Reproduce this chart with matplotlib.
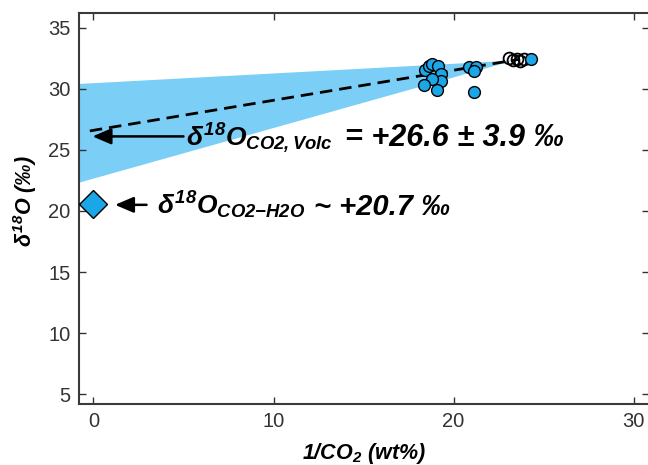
import matplotlib
matplotlib.use("Agg")
import matplotlib.pyplot as plt
import numpy as np

plt.rcParams['font.family'] = ['Liberation Sans', 'DejaVu Sans']
plt.rcParams['mathtext.fontset'] = 'custom'
plt.rcParams['mathtext.rm'] = 'Liberation Sans:bold:italic'
plt.rcParams['mathtext.it'] = 'Liberation Sans:bold:italic'
plt.rcParams['mathtext.bf'] = 'Liberation Sans:bold:italic'
plt.rcParams['mathtext.sf'] = 'Liberation Sans:bold:italic'

# ---- data ----
filled_x = [18.41, 18.64, 18.82, 19.15, 19.28, 19.28, 18.79, 18.36, 19.06,
            20.85, 21.22, 21.13, 21.13, 24.28]
filled_y = [31.56, 31.90, 32.00, 31.83, 31.24, 30.63, 30.83, 30.28, 29.93,
            31.78, 31.78, 31.45, 29.73, 32.40]
open_x = [23.10, 23.30, 23.50, 23.70, 23.90]
open_y = [32.50, 32.35, 32.42, 32.30, 32.40]

volc_value = 26.6
volc_err = 3.9
h2o_value = 20.7

# band (regression confidence envelope) and fit line
band_x = [-1.0, 23.3]
band_upper = [30.42, 32.35]
band_lower = [22.28, 32.35]
fit_x = [-0.2, 23.6]
fit_y = [26.55, 32.40]

xticks = [0, 10, 20, 30]
yticks = [5, 10, 15, 20, 25, 30, 35]

point_color = '#1ba6e8'
band_color = '#7bcef6'

fig = plt.figure(figsize=(6.48, 4.65), dpi=100)
ax = fig.add_axes([79/648, 61/465, 570/648, 391/465])

ax.fill_between(band_x, band_lower, band_upper, color=band_color, lw=0, zorder=1)
ax.plot(fit_x, fit_y, color='black', lw=2.0, linestyle=(0, (4.5, 2.5)), zorder=2)

ax.plot(open_x, open_y, 'o', ms=8.5, mfc='none', mec='black', mew=1.3, zorder=3)
ax.plot(filled_x, filled_y, 'o', ms=8.5, mfc=point_color, mec='black', mew=1.0, zorder=4)

ax.plot([0], [h2o_value - 0.1], 'D', ms=14.5, mfc=point_color, mec='black', mew=1.0,
        zorder=5, clip_on=False)

# arrows
arrow_style = '-|>,head_length=0.75,head_width=0.32'
ax.annotate('', xy=(-0.05, 26.1), xytext=(5.0, 26.1),
            arrowprops=dict(arrowstyle=arrow_style, color='black', lw=1.8,
                            mutation_scale=15, shrinkA=0, shrinkB=0), zorder=6)
ax.annotate('', xy=(1.2, 20.5), xytext=(2.95, 20.5),
            arrowprops=dict(arrowstyle=arrow_style, color='black', lw=1.8,
                            mutation_scale=15, shrinkA=0, shrinkB=0), zorder=6)

txt_kw = dict(fontweight='bold', fontstyle='italic', va='baseline', ha='left')
ax.text(5.15, 25.3, r'$\delta^{18}O_{CO2,Volc}$', fontsize=19, **txt_kw)
ax.text(13.95, 25.3, f'= +{volc_value} ± {volc_err} ‰', fontsize=22, **txt_kw)
ax.text(3.55, 19.7, r'$\delta^{18}O_{CO2\mathrm{-}H2O}$', fontsize=19, **txt_kw)
ax.text(12.25, 19.7, f'~ +{h2o_value} ‰', fontsize=21, **txt_kw)

ax.set_xlim(-0.8, 30.85)
ax.set_ylim(4.2, 36.2)
ax.set_xticks(xticks)
ax.set_yticks(yticks)

ax.tick_params(direction='in', top=True, right=True, length=5, width=1.0,
               labelsize=14.5, colors='#333333', pad=6)
for s in ax.spines.values():
    s.set_linewidth(1.5)
    s.set_color('#3a3a3a')

ax.set_xlabel(r'1/CO$_2$ (wt%)', fontsize=15.5, fontweight='bold', fontstyle='italic', labelpad=7)
ax.set_ylabel(r'$\delta^{18}$O (‰)', fontsize=15.5, fontweight='bold', fontstyle='italic')
ax.yaxis.set_label_coords(-0.07, 0.52)

fig.savefig('out.png', dpi=100)
